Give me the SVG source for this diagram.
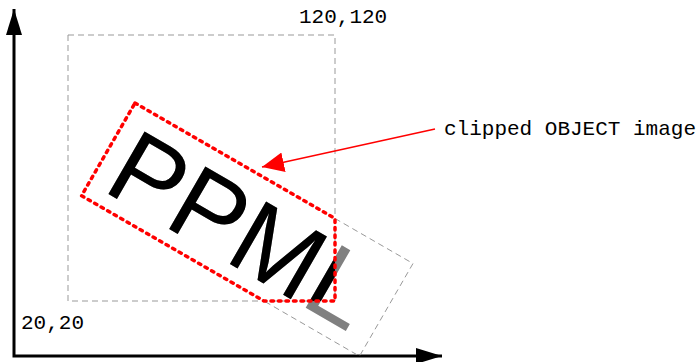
<svg xmlns="http://www.w3.org/2000/svg" width="700" height="362" viewBox="0 0 700 362">
  <style>
    .axis { fill: none; stroke: #000; stroke-width: 3; }
    .bounds { fill: none; stroke: #999; stroke-width: 1; stroke-dasharray: 6 4; }
    .clipline { fill: none; stroke: #f00; stroke-width: 3.5; stroke-dasharray: 2.5 5; stroke-linecap: round; stroke-linejoin: round; }
    .pointer { fill: none; stroke: #f00; stroke-width: 1.5; }
    .label { font-family: "Liberation Mono", "Courier New", monospace; font-size: 21px; fill: #000; }
    .ppml { font-family: "Liberation Sans", Arial, sans-serif; font-size: 105px; }
  </style>
  <defs>
    <marker id="axisHead" markerUnits="userSpaceOnUse" markerWidth="26" markerHeight="16" refX="26" refY="8" orient="auto-start-reverse">
      <path d="M0,0 L26,8 L0,16 z" fill="#000"/>
    </marker>
    <marker id="redHead" markerUnits="userSpaceOnUse" markerWidth="22" markerHeight="20" refX="22" refY="10" orient="auto">
      <path d="M0,0 L22,10 L0,20 z" fill="#f00"/>
    </marker>
    <clipPath id="pageClip">
      <rect x="68" y="35" width="267" height="266"/>
    </clipPath>
  </defs>

  <g id="axes">
    <path class="axis" d="M14,9 L14,356 L442,356" marker-start="url(#axisHead)" marker-end="url(#axisHead)"/>
  </g>

  <g id="clip-region">
    <rect class="bounds" x="68" y="35" width="267" height="266"/>
    <text class="label" x="299" y="23">120,120</text>
    <text class="label" x="21" y="329">20,20</text>
  </g>

  <g id="object-image">
    <polyline class="bounds" points="335,218.5 413,263.5 359.5,356.2 264,301"/>
    <g transform="translate(135,103) rotate(30)">
      <text class="ppml" x="14" y="92" fill="#808080">PPML</text>
    </g>
    <g clip-path="url(#pageClip)">
      <g transform="translate(135,103) rotate(30)">
        <text class="ppml" x="14" y="92" fill="#000">PPML</text>
      </g>
    </g>
    <polygon class="clipline" points="135,103 335,218.5 335,301 264,301 81.5,195.7"/>
  </g>

  <g id="connectors">
    <line class="pointer" x1="435" y1="129" x2="262" y2="167" marker-end="url(#redHead)"/>
  </g>

  <g id="callout">
    <text class="label" x="444" y="135" textLength="252">clipped OBJECT image</text>
  </g>
</svg>
